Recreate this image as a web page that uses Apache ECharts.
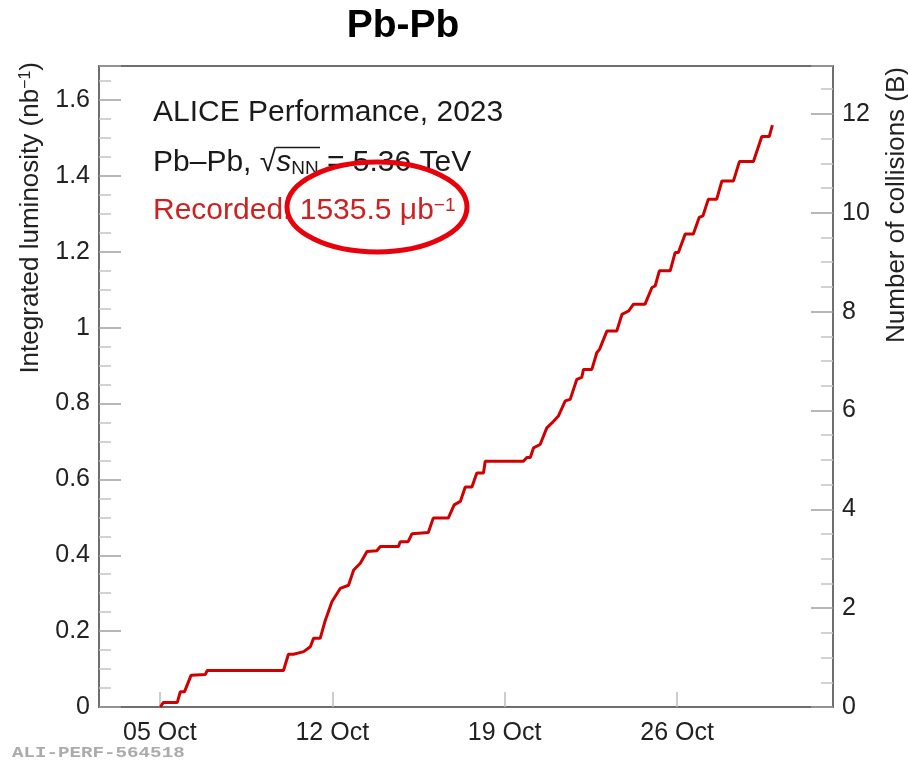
<!DOCTYPE html>
<html>
<head>
<meta charset="utf-8">
<script src="https://cdn.jsdelivr.net/npm/echarts@6/dist/echarts.min.js"></script>
<style>
  html, body { margin: 0; padding: 0; background: #fff; }
  #chart { width: 908px; height: 762px; }
</style>
</head>
<body>
<div id="chart"></div>
<script>
// Day of October 2023 (fractional) and integrated luminosity (nb^-1)
const days = [5.02, 5.14, 5.71, 5.83, 6.0, 6.27, 6.85, 6.92, 10.02, 10.22, 10.43, 10.84, 11.11, 11.24, 11.51, 11.72, 11.99, 12.33, 12.66, 12.87, 13.14, 13.41, 13.81, 13.95, 14.69, 14.76, 15.08, 15.24, 15.9, 16.1, 16.71, 16.95, 17.2, 17.4, 17.67, 17.87, 18.14, 18.21, 19.76, 19.9, 20.04, 20.17, 20.44, 20.71, 20.92, 21.18, 21.46, 21.66, 21.93, 22.13, 22.2, 22.54, 22.74, 22.85, 23.15, 23.55, 23.76, 24.03, 24.23, 24.7, 24.98, 25.11, 25.28, 25.72, 25.92, 26.05, 26.33, 26.66, 26.9, 27.05, 27.27, 27.61, 27.82, 28.29, 28.53, 29.1, 29.44, 29.74, 29.87];
const lumi = [0, 0.012, 0.012, 0.04, 0.04, 0.084, 0.086, 0.096, 0.096, 0.139, 0.139, 0.146, 0.159, 0.181, 0.181, 0.229, 0.278, 0.313, 0.321, 0.361, 0.379, 0.41, 0.412, 0.423, 0.423, 0.436, 0.436, 0.457, 0.46, 0.498, 0.498, 0.533, 0.542, 0.58, 0.58, 0.617, 0.617, 0.648, 0.648, 0.658, 0.658, 0.683, 0.692, 0.736, 0.749, 0.767, 0.807, 0.811, 0.864, 0.869, 0.89, 0.89, 0.934, 0.943, 0.991, 0.991, 1.035, 1.044, 1.062, 1.062, 1.106, 1.11, 1.15, 1.15, 1.198, 1.198, 1.247, 1.247, 1.291, 1.295, 1.339, 1.339, 1.387, 1.387, 1.438, 1.438, 1.504, 1.504, 1.534];

const xTickDays = [5, 12, 19, 26];
const xTickLabels = ['05 Oct', '12 Oct', '19 Oct', '26 Oct'];

const xRange = [2.53, 32.33];
const yLeftRange = [0, 1.69];
const yRightRange = [0, 12.97];

const seriesData = days.map((d, i) => [d, lumi[i]]);

const chart = echarts.init(document.getElementById('chart'), null, { renderer: 'canvas' });
const FONT = 'Liberation Sans';
const frameColor = '#6e6e6e';
const tickColor = '#a0a0a0';

const option = {
  animation: false,
  backgroundColor: '#ffffff',
  grid: {
    left: 99, right: 75, top: 66, bottom: 55,
    show: true, borderColor: frameColor, borderWidth: 2, backgroundColor: 'transparent'
  },
  xAxis: {
    type: 'value',
    min: xRange[0], max: xRange[1],
    splitLine: { show: false },
    axisLine: { show: true, lineStyle: { color: frameColor, width: 2 } },
    axisTick: { show: true, inside: true, length: 15, customValues: xTickDays, lineStyle: { color: '#bdbdbd', width: 1.5 } },
    axisLabel: {
      customValues: xTickDays,
      formatter: v => xTickLabels[xTickDays.indexOf(Math.round(v))],
      fontFamily: FONT, fontSize: 25, color: '#222', margin: 14
    }
  },
  yAxis: [
    {
      type: 'value', position: 'left',
      min: yLeftRange[0], max: yLeftRange[1], interval: 0.2,
      splitLine: { show: false },
      axisLine: { show: true, lineStyle: { color: frameColor, width: 2 } },
      axisTick: { show: true, inside: true, length: 22, lineStyle: { color: tickColor, width: 1.5 } },
      minorTick: { show: true, splitNumber: 4, length: 12, lineStyle: { color: '#c4c4c4', width: 1.5 } },
      axisLabel: { fontFamily: FONT, fontSize: 25, color: '#222', margin: 9, showMaxLabel: false }
    },
    {
      type: 'value', position: 'right',
      min: yRightRange[0], max: yRightRange[1], interval: 2,
      splitLine: { show: false },
      axisLine: { show: true, lineStyle: { color: frameColor, width: 2 } },
      axisTick: { show: true, inside: true, length: 22, lineStyle: { color: tickColor, width: 1.5 } },
      minorTick: { show: true, splitNumber: 4, length: 12, lineStyle: { color: '#c4c4c4', width: 1.5 } },
      axisLabel: { fontFamily: FONT, fontSize: 25, color: '#222', margin: 9, showMaxLabel: false }
    }
  ],
  series: [
    {
      type: 'line',
      data: seriesData,
      yAxisIndex: 0,
      symbol: 'none',
      lineStyle: { color: '#d00000', width: 3 },
      z: 3
    }
  ],
  graphic: [
    {
      type: 'text', x: 403, y: 26,
      style: { text: 'Pb-Pb', font: 'bold 39px "Liberation Sans"', fill: '#000', align: 'center', verticalAlign: 'middle' }
    },
    {
      type: 'text', x: 31, y: 62, rotation: Math.PI / 2,
      style: {
        text: '{a|Integrated luminosity (nb}{sup|−1}{a|)}',
        align: 'right', verticalAlign: 'middle',
        rich: {
          a: { fontFamily: FONT, fontSize: 26, fill: '#222' },
          sup: { fontFamily: FONT, fontSize: 16, fill: '#222', verticalAlign: 'top' }
        }
      }
    },
    {
      type: 'text', x: 897, y: 67, rotation: Math.PI / 2,
      style: {
        text: 'Number of collisions (B)', align: 'right', verticalAlign: 'middle',
        fontFamily: FONT, fontSize: 26, fill: '#222'
      }
    },
    {
      type: 'text', x: 153, y: 113,
      style: { text: 'ALICE Performance, 2023', fontFamily: FONT, fontSize: 30, fill: '#1a1a1a', verticalAlign: 'middle' }
    },
    {
      type: 'text', x: 153, y: 163,
      style: {
        text: '{a|Pb–Pb, }{r|√}{s|s}{sub|NN}{a| = 5.36 TeV}',
        verticalAlign: 'middle',
        rich: {
          a: { fontFamily: FONT, fontSize: 30, fill: '#1a1a1a' },
          r: { fontFamily: FONT, fontSize: 30, fill: '#1a1a1a' },
          s: { fontFamily: FONT, fontSize: 30, fontStyle: 'italic', fill: '#1a1a1a' },
          sub: { fontFamily: FONT, fontSize: 19, fill: '#1a1a1a', verticalAlign: 'bottom' }
        }
      }
    },
    {
      type: 'line', shape: { x1: 276, y1: 147.5, x2: 320, y2: 147.5 },
      style: { stroke: '#1a1a1a', lineWidth: 1.5 }
    },
    {
      type: 'text', x: 153, y: 211,
      style: {
        text: '{a|Recorded: 1535.5 μb}{sup|−1}',
        verticalAlign: 'middle',
        rich: {
          a: { fontFamily: FONT, fontSize: 30, fill: '#cc2222' },
          sup: { fontFamily: FONT, fontSize: 19, fill: '#cc2222', verticalAlign: 'top' }
        }
      }
    },
    {
      type: 'ellipse', shape: { cx: 377, cy: 207, rx: 90, ry: 45 },
      style: { fill: 'none', stroke: '#e8000b', lineWidth: 5 }, z: 100
    },
    {
      type: 'text', x: 12, y: 753, scaleX: 1.37,
      style: { text: 'ALI-PERF-564518', font: 'bold 14px "Liberation Mono"', fill: '#ababab', verticalAlign: 'middle' }
    }
  ]
};
chart.setOption(option);
</script>
</body>
</html>
